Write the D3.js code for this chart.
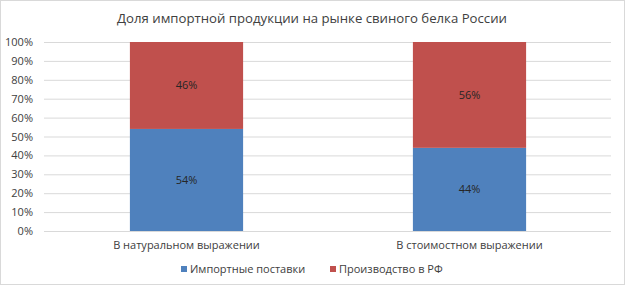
<!DOCTYPE html>
<html><head><meta charset="utf-8">
<script src="https://cdn.jsdelivr.net/npm/d3@7"></script>
<style>body{margin:0;background:#fff}svg{display:block}text{font-family:"Open Sans",sans-serif;fill:#404040}</style>
</head><body><svg id="c" width="628" height="286"></svg>
<script>
const title = "Доля импортной продукции на рынке свиного белка России";
const categories = ["В натуральном выражении", "В стоимостном выражении"];
const seriesNames = ["Импортные поставки", "Производство в РФ"];
const importShare = [54, 44];
const domesticShare = [46, 56];
const yTicks = [0,10,20,30,40,50,60,70,80,90,100];
const colors = ["#4F81BD", "#C0504D"];

const svg = d3.select("#c");
svg.append("rect").attr("x",0.5).attr("y",0.5).attr("width",624).attr("height",284)
  .attr("fill","#fff").attr("stroke","#d9d9d9");
svg.append("text").attr("x",312).attr("y",23).attr("text-anchor","middle")
  .attr("font-size",13.2).text(title);

const x = d3.scaleBand().domain(categories).range([45,611]).paddingInner(0.6).paddingOuter(0.3);
const y = d3.scaleLinear().domain([0,100]).range([231,42]);

const g = svg.append("g");
g.selectAll("line.grid").data(yTicks).join("line").attr("class","grid")
  .attr("x1",44).attr("x2",611).attr("y1",d=>y(d)+0.5).attr("y2",d=>y(d)+0.5)
  .attr("stroke","#d9d9d9");
g.selectAll("text.yt").data(yTicks).join("text").attr("class","yt")
  .attr("x",33).attr("y",d=>y(d)+4).attr("text-anchor","end").attr("font-size",11)
  .text(d=>d+"%");

const rows = categories.map((c,i)=>({cat:c, imp:importShare[i], dom:domesticShare[i]}));
const stack = d3.stack().keys(["imp","dom"])(rows);
stack.forEach((s,k)=>{
  g.selectAll("rect.s"+k).data(s).join("rect").attr("class","s"+k)
    .attr("x",d=>x(d.data.cat)).attr("width",x.bandwidth())
    .attr("y",d=>y(d[1])).attr("height",d=>y(d[0])-y(d[1]))
    .attr("fill",colors[k]);
  g.selectAll("text.l"+k).data(s).join("text").attr("class","l"+k)
    .attr("x",d=>x(d.data.cat)+x.bandwidth()/2).attr("y",d=>(y(d[0])+y(d[1]))/2+4)
    .attr("text-anchor","middle").attr("font-size",11).style("fill","#262626")
    .text(d=>(d[1]-d[0])+"%");
});

g.selectAll("text.cat").data(categories).join("text").attr("class","cat")
  .attr("x",d=>x(d)+x.bandwidth()/2).attr("y",249).attr("text-anchor","middle")
  .attr("font-size",11).text(d=>d);

const legX = [181, 330];
seriesNames.forEach((n,i)=>{
  svg.append("rect").attr("x",legX[i]).attr("y",266).attr("width",6).attr("height",6).attr("fill",colors[i]);
  svg.append("text").attr("x",legX[i]+9).attr("y",273).attr("font-size",11).text(n);
});
</script></body></html>
